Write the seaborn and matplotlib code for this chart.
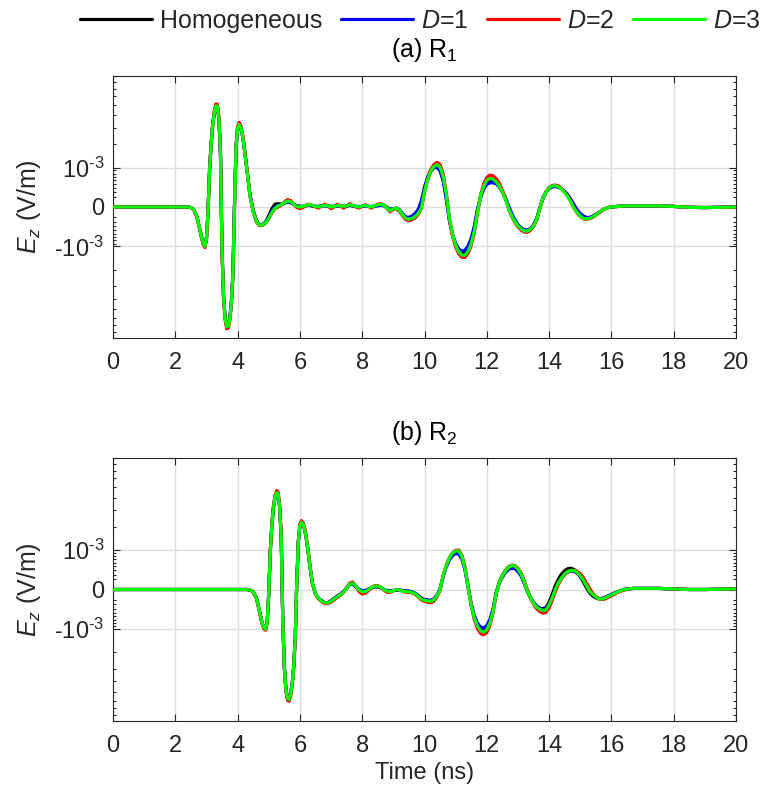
import numpy as np
import pandas as pd
import matplotlib
matplotlib.use("Agg")
import matplotlib.pyplot as plt
import seaborn as sns
from matplotlib.ticker import FixedLocator, NullFormatter
from matplotlib.lines import Line2D

sns.set_style("ticks")
plt.rcParams["font.family"] = ["Liberation Sans", "DejaVu Sans"]
plt.rcParams["mathtext.fontset"] = "custom"
plt.rcParams["mathtext.rm"] = "Liberation Sans"
plt.rcParams["mathtext.it"] = "Liberation Sans:italic"
plt.rcParams["mathtext.default"] = "regular"

# ---------------- data (E_z in units of 1e-3 V/m) ----------------
series_labels = ["Homogeneous", "$\\mathit{D}$=1", "$\\mathit{D}$=2", "$\\mathit{D}$=3"]
series_colors = ["#000000", "#0000ff", "#ff0000", "#00ff00"]
panel_titles = ["(a) R$_1$", "(b) R$_2$"]
y_tick_values = [-1e-3, 0.0, 1e-3]
y_tick_labels = ["-10$^{\\text{-3}}$", "0", "10$^{\\text{-3}}$"]
x_ticks = [0, 2, 4, 6, 8, 10, 12, 14, 16, 18, 20]

t1 = [0, 1, 2, 2.4, 2.5, 2.6, 2.7, 2.8, 2.85, 2.9,
      2.95, 3.0, 3.05, 3.1, 3.15, 3.2, 3.25, 3.3, 3.35, 3.4,
      3.45, 3.5, 3.55, 3.6, 3.65, 3.7, 3.75, 3.8, 3.85, 3.9,
      3.95, 4.0, 4.05, 4.1, 4.15, 4.2, 4.25, 4.3, 4.35, 4.4,
      4.5, 4.6, 4.7, 4.8, 4.9, 5.0, 5.1, 5.2, 5.3, 5.4,
      5.5, 5.6, 5.7, 5.8, 5.9, 6.0, 6.1, 6.2, 6.3, 6.4,
      6.5, 6.6, 6.7, 6.8, 6.9, 7.0, 7.1, 7.2, 7.3, 7.4,
      7.5, 7.6, 7.7, 7.8, 7.9, 8.0, 8.1, 8.2, 8.3, 8.4,
      8.5, 8.6, 8.7, 8.8, 8.9, 9.0, 9.1, 9.2, 9.3, 9.4,
      9.5, 9.6, 9.7, 9.8, 9.9, 10.0, 10.1, 10.2, 10.3, 10.4,
      10.5, 10.6, 10.7, 10.8, 10.9, 11.0, 11.1, 11.2, 11.3, 11.4,
      11.5, 11.6, 11.7, 11.8, 11.9, 12.0, 12.1, 12.2, 12.3, 12.4,
      12.5, 12.6, 12.7, 12.8, 12.9, 13.0, 13.1, 13.2, 13.3, 13.4,
      13.5, 13.6, 13.7, 13.8, 13.9, 14.0, 14.1, 14.2, 14.3, 14.4,
      14.5, 14.6, 14.7, 14.8, 14.9, 15.0, 15.1, 15.2, 15.3, 15.4,
      15.5, 15.6, 15.7, 15.8, 15.9, 16.0, 16.2, 16.5, 17.0, 17.5,
      18.0, 18.5, 19.0, 19.5, 20.0]

hom1 = [0, 0, 0, 0, -0.01, -0.05, -0.2, -0.52, -0.72, -0.9,
        -1.0, -0.75, -0.1, 0.9, 2.0, 3.2, 4.2, 4.85, 4.88, 3.74,
        1.57, -1.15, -3.88, -6.03, -7.15, -7.1, -6.1, -4.37, -2.2, 0.0,
        1.84, 3.0, 3.25, 3.04, 2.59, 2.0, 1.41, 0.92, 0.52, 0.22,
        -0.06, -0.26, -0.37, -0.36, -0.3, -0.17, -0.03, 0.05, 0.06, 0.05,
        0.07, 0.09, 0.08, 0.05, 0.02, 0.01, 0.01, 0.03, 0.03, 0.02,
        0.01, 0.01, 0.02, 0.03, 0.02, 0.01, 0.01, 0.02, 0.02, 0.01,
        0.02, 0.03, 0.02, 0.01, 0.0, 0.01, 0.03, 0.01, 0.0, 0.02,
        0.03, 0.04, 0.03, -0.01, -0.05, -0.03, -0.02, -0.05, -0.14, -0.21,
        -0.23, -0.21, -0.16, -0.09, 0.02, 0.33, 0.62, 0.86, 1.0, 1.05,
        0.95, 0.65, 0.2, -0.24, -0.62, -0.93, -1.15, -1.24, -1.22, -1.07,
        -0.8, -0.45, -0.06, 0.2, 0.41, 0.55, 0.6, 0.59, 0.53, 0.43,
        0.3, 0.15, -0.01, -0.15, -0.28, -0.38, -0.46, -0.51, -0.52, -0.47,
        -0.38, -0.24, -0.02, 0.16, 0.3, 0.39, 0.44, 0.44, 0.42, 0.37,
        0.3, 0.21, 0.11, 0.0, -0.08, -0.15, -0.2, -0.22, -0.21, -0.18,
        -0.14, -0.1, -0.06, -0.03, -0.01, 0.0, 0.01, 0.02, 0.02, 0.02,
        0.01, -0.005, -0.01, -0.005, 0.0]

d1_1 = [0, 0, 0, 0, -0.01, -0.05, -0.2, -0.52, -0.72, -0.9,
        -1.0, -0.74, -0.08, 0.92, 2.0, 3.2, 4.18, 4.82, 4.85, 3.7,
        1.52, -1.18, -3.9, -6.02, -7.12, -7.05, -6.05, -4.3, -2.12, 0.05,
        1.86, 2.98, 3.22, 3.02, 2.58, 2.0, 1.42, 0.93, 0.53, 0.23,
        -0.06, -0.27, -0.38, -0.37, -0.31, -0.2, -0.07, 0.0, 0.03, 0.04,
        0.07, 0.09, 0.08, 0.05, 0.02, 0.01, 0.01, 0.02, 0.03, 0.02,
        0.01, 0.01, 0.02, 0.02, 0.01, 0.01, 0.01, 0.02, 0.02, 0.01,
        0.01, 0.03, 0.02, 0.01, 0.01, 0.01, 0.02, 0.01, 0.01, 0.01,
        0.02, 0.03, 0.02, -0.01, -0.04, -0.03, -0.03, -0.06, -0.13, -0.19,
        -0.2, -0.17, -0.12, -0.04, 0.12, 0.42, 0.7, 0.9, 1.0, 1.0,
        0.88, 0.58, 0.14, -0.28, -0.63, -0.9, -1.09, -1.17, -1.14, -0.98,
        -0.73, -0.4, -0.04, 0.18, 0.37, 0.49, 0.53, 0.53, 0.5, 0.43,
        0.32, 0.18, 0.02, -0.12, -0.25, -0.36, -0.44, -0.49, -0.5, -0.46,
        -0.37, -0.23, -0.02, 0.16, 0.3, 0.39, 0.42, 0.43, 0.42, 0.38,
        0.32, 0.24, 0.14, 0.04, -0.05, -0.12, -0.17, -0.2, -0.2, -0.18,
        -0.14, -0.1, -0.06, -0.03, -0.01, 0.0, 0.01, 0.02, 0.02, 0.02,
        0.01, -0.005, -0.01, -0.005, 0.0]

d2_1 = [0, 0, 0, 0, -0.01, -0.05, -0.21, -0.54, -0.75, -0.94,
        -1.04, -0.78, -0.1, 0.94, 2.08, 3.33, 4.37, 5.1, 5.1, 3.9,
        1.65, -1.2, -4.05, -6.3, -7.5, -7.4, -6.35, -4.55, -2.3, -0.02,
        1.9, 3.12, 3.42, 3.2, 2.72, 2.1, 1.47, 0.94, 0.52, 0.21,
        -0.09, -0.3, -0.39, -0.38, -0.33, -0.23, -0.11, -0.03, 0.0, 0.03,
        0.09, 0.14, 0.12, 0.05, -0.01, -0.03, -0.01, 0.03, 0.05, 0.03,
        0.0, -0.02, 0.02, 0.05, 0.02, -0.03, 0.0, 0.05, 0.02, -0.02,
        0.02, 0.06, 0.03, 0.0, -0.02, 0.02, 0.04, 0.01, -0.02, 0.02,
        0.05, 0.06, 0.03, -0.03, -0.09, -0.04, -0.03, -0.08, -0.17, -0.25,
        -0.27, -0.25, -0.21, -0.14, -0.03, 0.31, 0.65, 0.93, 1.11, 1.19,
        1.11, 0.79, 0.28, -0.24, -0.67, -1.02, -1.28, -1.42, -1.42, -1.26,
        -0.96, -0.58, -0.12, 0.23, 0.5, 0.68, 0.75, 0.73, 0.65, 0.52,
        0.34, 0.16, -0.03, -0.18, -0.31, -0.42, -0.5, -0.55, -0.56, -0.51,
        -0.41, -0.26, -0.03, 0.17, 0.31, 0.41, 0.46, 0.47, 0.45, 0.39,
        0.3, 0.21, 0.1, -0.02, -0.11, -0.18, -0.23, -0.24, -0.23, -0.2,
        -0.16, -0.11, -0.07, -0.03, -0.01, 0.0, 0.01, 0.02, 0.02, 0.02,
        0.01, -0.005, -0.01, -0.005, 0.0]

d3_1 = [0, 0, 0, 0, -0.01, -0.05, -0.2, -0.52, -0.72, -0.9,
        -1.0, -0.75, -0.1, 0.9, 2.0, 3.2, 4.2, 4.91, 4.9, 3.76,
        1.59, -1.15, -3.89, -6.06, -7.2, -7.13, -6.12, -4.39, -2.22, -0.02,
        1.83, 3.0, 3.27, 3.05, 2.6, 2.0, 1.4, 0.9, 0.5, 0.2,
        -0.08, -0.28, -0.38, -0.37, -0.32, -0.22, -0.1, -0.02, 0.02, 0.04,
        0.08, 0.11, 0.1, 0.05, 0.01, 0.0, 0.01, 0.03, 0.04, 0.03,
        0.01, 0.0, 0.02, 0.03, 0.02, 0.0, 0.01, 0.03, 0.02, 0.01,
        0.02, 0.04, 0.03, 0.01, 0.0, 0.02, 0.03, 0.01, 0.0, 0.02,
        0.04, 0.05, 0.03, -0.02, -0.07, -0.03, -0.02, -0.06, -0.15, -0.22,
        -0.24, -0.22, -0.18, -0.12, -0.02, 0.31, 0.62, 0.88, 1.04, 1.11,
        1.02, 0.71, 0.25, -0.22, -0.62, -0.95, -1.2, -1.33, -1.33, -1.18,
        -0.9, -0.53, -0.1, 0.21, 0.44, 0.6, 0.65, 0.63, 0.56, 0.45,
        0.3, 0.14, -0.03, -0.16, -0.29, -0.39, -0.47, -0.52, -0.53, -0.48,
        -0.39, -0.25, -0.03, 0.16, 0.3, 0.4, 0.45, 0.45, 0.43, 0.37,
        0.29, 0.2, 0.09, -0.02, -0.1, -0.17, -0.22, -0.23, -0.22, -0.19,
        -0.15, -0.1, -0.06, -0.03, -0.01, 0.0, 0.01, 0.02, 0.02, 0.02,
        0.01, -0.005, -0.01, -0.005, 0.0]

t2 = [0, 1, 2, 3, 4, 4.2, 4.3, 4.4, 4.5, 4.6,
      4.7, 4.75, 4.8, 4.85, 4.9, 4.95, 5.0, 5.05, 5.1, 5.15,
      5.2, 5.25, 5.3, 5.35, 5.4, 5.45, 5.5, 5.55, 5.6, 5.65,
      5.7, 5.75, 5.8, 5.85, 5.9, 5.95, 6.0, 6.05, 6.1, 6.15,
      6.2, 6.25, 6.3, 6.35, 6.4, 6.5, 6.6, 6.7, 6.8, 6.9,
      7.0, 7.1, 7.2, 7.3, 7.4, 7.5, 7.6, 7.7, 7.8, 7.9,
      8.0, 8.1, 8.2, 8.3, 8.4, 8.5, 8.6, 8.7, 8.8, 8.9,
      9.0, 9.1, 9.2, 9.3, 9.4, 9.5, 9.6, 9.7, 9.8, 9.9,
      10.0, 10.1, 10.2, 10.3, 10.4, 10.5, 10.6, 10.7, 10.8, 10.9,
      11.0, 11.1, 11.2, 11.3, 11.4, 11.5, 11.6, 11.7, 11.8, 11.9,
      12.0, 12.1, 12.2, 12.3, 12.4, 12.5, 12.6, 12.7, 12.8, 12.9,
      13.0, 13.1, 13.2, 13.3, 13.4, 13.5, 13.6, 13.7, 13.8, 13.9,
      14.0, 14.1, 14.2, 14.3, 14.4, 14.5, 14.6, 14.7, 14.8, 14.9,
      15.0, 15.1, 15.2, 15.3, 15.4, 15.5, 15.6, 15.7, 15.8, 15.9,
      16.0, 16.2, 16.4, 16.7, 17.0, 17.5, 18.0, 18.5, 19.0, 19.5,
      20.0]

hom2 = [0, 0, 0, 0, 0, 0, 0, -0.01, -0.04, -0.15,
        -0.45, -0.65, -0.83, -0.96, -1.0, -0.76, -0.07, 0.95, 2.09, 3.18,
        4.0, 4.43, 4.29, 3.26, 1.49, -0.7, -2.88, -4.65, -5.68, -5.8,
        -5.3, -4.28, -2.88, -1.34, 0.13, 1.32, 2.05, 2.23, 2.13, 1.89,
        1.49, 1.05, 0.65, 0.35, 0.12, -0.08, -0.17, -0.22, -0.26, -0.26,
        -0.22, -0.17, -0.12, -0.09, -0.04, 0.02, 0.1, 0.11, 0.05, 0.0,
        -0.03, -0.03, 0.0, 0.03, 0.05, 0.05, 0.03, 0.0, -0.02, -0.03,
        -0.02, -0.01, -0.01, -0.02, -0.03, -0.03, -0.04, -0.07, -0.12, -0.17,
        -0.2, -0.21, -0.22, -0.19, -0.11, 0.0, 0.27, 0.51, 0.72, 0.87,
        0.95, 0.94, 0.77, 0.45, 0.05, -0.3, -0.62, -0.86, -1.01, -1.05,
        -0.96, -0.75, -0.44, -0.07, 0.14, 0.28, 0.4, 0.48, 0.52, 0.5,
        0.41, 0.29, 0.12, -0.03, -0.16, -0.27, -0.35, -0.39, -0.4, -0.37,
        -0.25, -0.09, 0.07, 0.2, 0.31, 0.39, 0.44, 0.45, 0.42, 0.35,
        0.25, 0.14, 0.03, -0.06, -0.12, -0.16, -0.18, -0.17, -0.15, -0.12,
        -0.09, -0.04, 0.0, 0.02, 0.02, 0.02, 0.01, 0.0, 0.0, 0.005,
        0.01]

d1_2 = [0, 0, 0, 0, 0, 0, 0, -0.01, -0.04, -0.15,
        -0.45, -0.65, -0.83, -0.96, -1.0, -0.76, -0.07, 0.95, 2.08, 3.16,
        3.98, 4.4, 4.26, 3.23, 1.47, -0.7, -2.86, -4.62, -5.65, -5.78,
        -5.27, -4.25, -2.87, -1.33, 0.13, 1.31, 2.04, 2.22, 2.12, 1.88,
        1.48, 1.04, 0.64, 0.34, 0.12, -0.08, -0.17, -0.22, -0.26, -0.26,
        -0.22, -0.17, -0.12, -0.09, -0.04, 0.02, 0.09, 0.1, 0.05, 0.0,
        -0.02, -0.02, 0.01, 0.03, 0.05, 0.05, 0.03, 0.0, -0.02, -0.03,
        -0.02, -0.01, -0.01, -0.02, -0.03, -0.03, -0.04, -0.07, -0.11, -0.16,
        -0.19, -0.2, -0.21, -0.18, -0.1, 0.01, 0.26, 0.49, 0.68, 0.81,
        0.88, 0.86, 0.7, 0.4, 0.03, -0.29, -0.58, -0.8, -0.93, -0.96,
        -0.88, -0.69, -0.4, -0.06, 0.12, 0.24, 0.35, 0.42, 0.45, 0.44,
        0.37, 0.27, 0.12, -0.02, -0.14, -0.25, -0.33, -0.39, -0.42, -0.4,
        -0.29, -0.15, 0.0, 0.13, 0.23, 0.31, 0.36, 0.38, 0.37, 0.33,
        0.26, 0.17, 0.07, -0.03, -0.09, -0.14, -0.17, -0.17, -0.15, -0.12,
        -0.09, -0.04, 0.0, 0.02, 0.02, 0.02, 0.01, 0.0, 0.0, 0.005,
        0.01]

d2_2 = [0, 0, 0, 0, 0, 0, 0, -0.01, -0.04, -0.16,
        -0.47, -0.68, -0.87, -1.0, -1.04, -0.79, -0.07, 0.99, 2.19, 3.32,
        4.2, 4.65, 4.5, 3.42, 1.57, -0.73, -3.02, -4.87, -5.95, -6.08,
        -5.54, -4.47, -3.02, -1.4, 0.14, 1.38, 2.15, 2.34, 2.24, 1.98,
        1.56, 1.09, 0.68, 0.36, 0.12, -0.09, -0.18, -0.24, -0.28, -0.28,
        -0.25, -0.2, -0.15, -0.11, -0.05, 0.03, 0.12, 0.14, 0.06, -0.04,
        -0.08, -0.07, -0.02, 0.04, 0.07, 0.07, 0.04, -0.01, -0.05, -0.05,
        -0.02, 0.0, -0.01, -0.03, -0.05, -0.05, -0.06, -0.09, -0.14, -0.2,
        -0.23, -0.25, -0.26, -0.23, -0.14, -0.01, 0.27, 0.53, 0.75, 0.9,
        0.99, 0.99, 0.82, 0.48, 0.05, -0.34, -0.7, -0.98, -1.16, -1.21,
        -1.12, -0.87, -0.51, -0.09, 0.13, 0.27, 0.4, 0.49, 0.53, 0.52,
        0.45, 0.34, 0.17, 0.0, -0.15, -0.29, -0.4, -0.47, -0.51, -0.49,
        -0.38, -0.21, -0.04, 0.1, 0.21, 0.3, 0.36, 0.39, 0.4, 0.38,
        0.32, 0.23, 0.12, 0.02, -0.07, -0.13, -0.17, -0.19, -0.18, -0.15,
        -0.12, -0.05, -0.01, 0.02, 0.02, 0.02, 0.01, 0.0, 0.0, 0.005,
        0.01]

d3_2 = [0, 0, 0, 0, 0, 0, 0, -0.01, -0.04, -0.15,
        -0.45, -0.65, -0.83, -0.96, -1.0, -0.76, -0.07, 0.95, 2.1, 3.19,
        4.03, 4.46, 4.32, 3.28, 1.5, -0.7, -2.9, -4.68, -5.72, -5.85,
        -5.33, -4.3, -2.9, -1.35, 0.13, 1.33, 2.07, 2.25, 2.15, 1.9,
        1.5, 1.05, 0.65, 0.35, 0.12, -0.08, -0.17, -0.23, -0.26, -0.265,
        -0.23, -0.18, -0.13, -0.1, -0.05, 0.02, 0.1, 0.12, 0.06, -0.01,
        -0.04, -0.04, 0.0, 0.04, 0.06, 0.06, 0.04, 0.0, -0.03, -0.04,
        -0.02, 0.0, -0.01, -0.03, -0.04, -0.04, -0.05, -0.08, -0.13, -0.18,
        -0.21, -0.22, -0.23, -0.2, -0.12, 0.0, 0.28, 0.53, 0.74, 0.89,
        0.97, 0.96, 0.78, 0.45, 0.04, -0.32, -0.65, -0.9, -1.06, -1.11,
        -1.02, -0.8, -0.47, -0.08, 0.13, 0.27, 0.39, 0.48, 0.52, 0.51,
        0.43, 0.31, 0.14, -0.02, -0.15, -0.27, -0.36, -0.42, -0.445, -0.43,
        -0.31, -0.16, 0.0, 0.13, 0.23, 0.32, 0.37, 0.4, 0.39, 0.35,
        0.27, 0.18, 0.07, -0.03, -0.09, -0.14, -0.18, -0.18, -0.16, -0.13,
        -0.1, -0.04, 0.0, 0.02, 0.02, 0.02, 0.01, 0.0, 0.0, 0.005,
        0.01]

panels = [
    (t1, [hom1, d1_1, d2_1, d3_1]),
    (t2, [hom2, d1_2, d2_2, d3_2]),
]

# ---------------- symmetric-log style axis ----------------
C = 1e-3


def fwd(y):
    y = np.asarray(y, dtype=float)
    return np.sign(y) * np.log10(1.0 + np.abs(y) / C)


def inv(u):
    u = np.asarray(u, dtype=float)
    return np.sign(u) * C * (10.0 ** np.abs(u) - 1.0)


minor_vals = [k * 1e-4 for k in range(2, 10)] + [k * 1e-3 for k in range(2, 10)]
minor_vals = sorted([-v for v in minor_vals] + minor_vals)

ink = "#262626"
fig = plt.figure(figsize=(7.69, 7.92), dpi=100)
W, H = 769.0, 792.0
ax1 = fig.add_axes([113 / W, 1 - 338 / H, 623 / W, 262 / H])
ax2 = fig.add_axes([113 / W, 1 - 721 / H, 623 / W, 263 / H])
axes = [ax1, ax2]
palette = dict(zip(series_labels, series_colors))
title_pads = [14, 13]

for ax, (t, vals), title, tpad in zip(axes, panels, panel_titles, title_pads):
    df = pd.DataFrame({
        "t": np.tile(np.asarray(t, dtype=float), len(vals)),
        "Ez": np.concatenate([np.asarray(v, dtype=float) for v in vals]) * 1e-3,
        "series": np.repeat(series_labels, len(t)),
    })
    ax.set_yscale("function", functions=(fwd, inv))
    sns.lineplot(data=df, x="t", y="Ez", hue="series", hue_order=series_labels,
                 palette=palette, estimator=None, sort=False, linewidth=2.3,
                 legend=False, ax=ax, zorder=3)
    ax.set_xlim(0, 20)
    ax.set_ylim(-9e-3, 9e-3)
    ax.set_xticks(x_ticks)
    ax.set_xticklabels([str(v) for v in x_ticks])
    ax.set_yticks(y_tick_values)
    ax.set_yticklabels(y_tick_labels)
    ax.yaxis.set_minor_locator(FixedLocator(minor_vals))
    ax.yaxis.set_minor_formatter(NullFormatter())
    ax.xaxis.set_minor_locator(FixedLocator([]))
    ax.grid(True, which="major", color="#dedede", linewidth=1.0, zorder=0)
    ax.set_axisbelow(True)
    ax.tick_params(axis="both", which="both", direction="in", top=True, right=True,
                   colors=ink, labelcolor=ink, labelsize=17, width=0.8)
    ax.tick_params(axis="x", which="major", length=5, pad=10)
    ax.tick_params(axis="y", which="major", length=5, pad=6)
    ax.tick_params(axis="y", which="minor", length=2.5)
    for s in ax.spines.values():
        s.set_color(ink)
        s.set_linewidth(0.8)
    ax.set_title(title, fontsize=18, color="black", pad=tpad)
    ax.set_ylabel("$\\mathit{E_z}$ (V/m)", fontsize=18, color=ink)
    ax.yaxis.set_label_coords(-0.112, 0.5)
    ax.set_xlabel("")

ax2.set_xlabel("Time (ns)", fontsize=17, color=ink, labelpad=4)

handles = [Line2D([], [], color=c, lw=2.3) for c in series_colors]
fig.legend(handles, series_labels, loc="upper center", bbox_to_anchor=(420 / W, 1.008),
           ncol=4, frameon=False, fontsize=18, handlelength=2.9, handletextpad=0.3,
           columnspacing=0.75, borderaxespad=0.2)

fig.savefig("out.png", dpi=100)
